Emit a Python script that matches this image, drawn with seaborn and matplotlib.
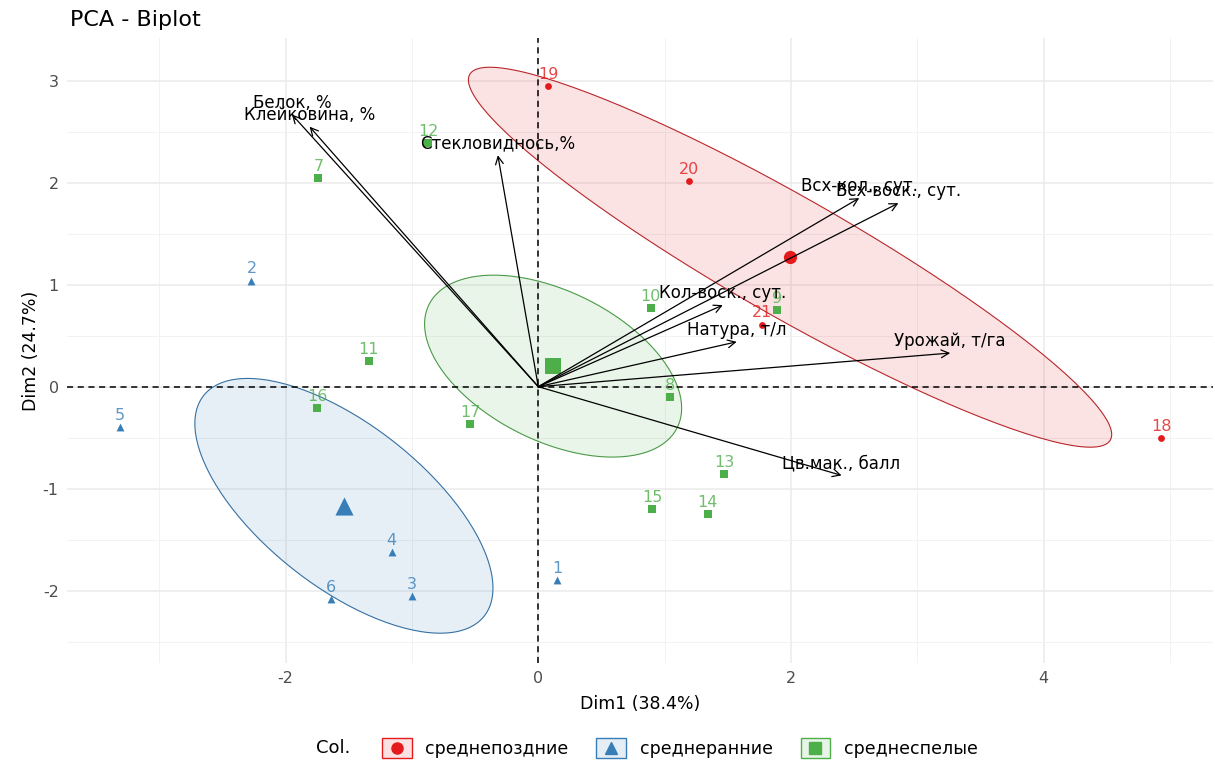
import numpy as np
import pandas as pd
import matplotlib
matplotlib.use("Agg")
import matplotlib.pyplot as plt
import seaborn as sns
from matplotlib.patches import Rectangle
from matplotlib.lines import Line2D
from matplotlib.legend_handler import HandlerBase
from matplotlib.colors import to_rgba

# Individuals (PCA scores on the first two dimensions)
sample_ids = [str(i) for i in range(1, 22)]
groups = ["среднеранние"] * 6 + ["среднеспелые"] * 11 + ["среднепоздние"] * 4
dim1 = [0.15, -2.27, -1.00, -1.16, -3.31, -1.64,
        -1.74, 1.04, 1.89, 0.89, -1.34, -0.87, 1.47, 1.34, 0.90, -1.75, -0.54,
        4.93, 0.08, 1.19, 1.77]
dim2 = [-1.90, 1.04, -2.05, -1.62, -0.40, -2.08,
        2.05, -0.10, 0.75, 0.77, 0.25, 2.39, -0.86, -1.25, -1.20, -0.21, -0.37,
        -0.50, 2.95, 2.02, 0.61]

# Variables (arrow end points)
var_names = ["Белок, %", "Клейковина, %", "Стекловиднось,%", "Всх-кол., сут.",
             "Всх-воск., сут.", "Кол-воск., сут.", "Натура, т/л", "Урожай, т/га",
             "Цв.мак., балл"]
var_dim1 = [-1.95, -1.81, -0.32, 2.54, 2.85, 1.46, 1.57, 3.26, 2.40]
var_dim2 = [2.67, 2.55, 2.27, 1.85, 1.80, 0.80, 0.44, 0.33, -0.87]

group_order = ["среднепоздние", "среднеранние", "среднеспелые"]
palette = {"среднепоздние": "#E41A1C", "среднеранние": "#377EB8", "среднеспелые": "#4DAF4A"}
edge_colors = {"среднепоздние": "#B8262B", "среднеранние": "#3570A3", "среднеспелые": "#4A9A47"}
markers = {"среднепоздние": "o", "среднеранние": "^", "среднеспелые": "s"}
point_size = {"среднепоздние": 24, "среднеранние": 32, "среднеспелые": 28}
center_size = {"среднепоздние": 90, "среднеранние": 170, "среднеспелые": 130}
key_marker_size = {"среднепоздние": 8, "среднеранние": 9, "среднеспелые": 8}

df = pd.DataFrame({"id": sample_ids, "group": groups, "Dim1": dim1, "Dim2": dim2})

sns.set_style("white")
plt.rcParams["font.family"] = ["DejaVu Sans"]
plt.rcParams["axes.unicode_minus"] = False
plt.rcParams["text.color"] = "black"
plt.rcParams["axes.labelcolor"] = "black"

fig = plt.figure(figsize=(12.15, 7.6), dpi=100)
ax = fig.add_axes([67 / 1215, 1 - 663 / 760, (1213 - 67) / 1215, (663 - 38) / 760])

ax.set_xlim(-3.73, 5.34)
ax.set_ylim(-2.71, 3.42)
ax.set_xticks([-2, 0, 2, 4])
ax.set_xticks([-3, -1, 1, 3, 5], minor=True)
ax.set_yticks([-2, -1, 0, 1, 2, 3])
ax.set_yticks([-2.5, -1.5, -0.5, 0.5, 1.5, 2.5], minor=True)
ax.grid(which="major", color="#EBEBEB", linewidth=1.1)
ax.grid(which="minor", color="#F2F2F2", linewidth=0.7)
ax.set_axisbelow(True)
for s in ax.spines.values():
    s.set_visible(False)
ax.tick_params(which="both", length=0, labelsize=11.5, labelcolor="#4D4D4D", pad=6)

# 95% confidence ellipses around group means
chi_r = np.sqrt(-2 * np.log(0.05))
t = np.linspace(0, 2 * np.pi, 200)
for g in group_order:
    sub = df[df["group"] == g]
    pts = sub[["Dim1", "Dim2"]].to_numpy()
    mu = pts.mean(axis=0)
    cov = np.cov(pts.T) / len(pts)
    vals, vecs = np.linalg.eigh(cov)
    circ = np.vstack([np.cos(t), np.sin(t)]) * chi_r
    ell = (vecs @ np.diag(np.sqrt(vals)) @ circ).T + mu
    ax.fill(ell[:, 0], ell[:, 1], color=palette[g], alpha=0.12, linewidth=0, zorder=1)
    ax.plot(ell[:, 0], ell[:, 1], color=edge_colors[g], linewidth=0.8, zorder=1.1)

ax.axhline(0, color="black", linestyle=(0, (4, 3)), linewidth=1.1, zorder=2)
ax.axvline(0, color="black", linestyle=(0, (4, 3)), linewidth=1.1, zorder=2)

# Individuals
for g in group_order:
    sub = df[df["group"] == g]
    sns.scatterplot(data=sub, x="Dim1", y="Dim2", color=palette[g], marker=markers[g],
                    s=point_size[g], linewidth=0, legend=False, ax=ax, zorder=3)
    for _, r in sub.iterrows():
        ax.annotate(r["id"], (r["Dim1"], r["Dim2"]), xytext=(0, 3), textcoords="offset points",
                    ha="center", va="bottom", color=palette[g], alpha=0.8, fontsize=11.5, zorder=4)

# Group centres
centres = df.groupby("group", as_index=False)[["Dim1", "Dim2"]].mean()
for g in group_order:
    c = centres[centres["group"] == g]
    sns.scatterplot(data=c, x="Dim1", y="Dim2", color=palette[g], marker=markers[g],
                    s=center_size[g], linewidth=0, legend=False, ax=ax, zorder=3)

# Variable arrows
for name, vx, vy in zip(var_names, var_dim1, var_dim2):
    ax.annotate("", xy=(vx, vy), xytext=(0, 0),
                arrowprops=dict(arrowstyle="->,head_length=0.55,head_width=0.28",
                                color="black", lw=0.9, shrinkA=0, shrinkB=0), zorder=5)
    ax.annotate(name, (vx, vy), xytext=(0, 2), textcoords="offset points",
                ha="center", va="bottom", color="black", fontsize=12, zorder=6)

ax.set_xlabel("Dim1 (38.4%)", fontsize=12.5, color="black", labelpad=6)
ax.set_ylabel("Dim2 (24.7%)", fontsize=12.5, color="black", labelpad=2)
fig.text(70 / 1215, 1 - 20 / 760, "PCA - Biplot", fontsize=16, ha="left", va="center",
         color="black")


class KeyBox(HandlerBase):
    """Legend key: light filled square with the group's marker in the middle."""

    def __init__(self, color, marker, ms):
        super().__init__()
        self.color, self.marker, self.ms = color, marker, ms

    def create_artists(self, legend, orig_handle, xdescent, ydescent, width, height, fontsize, trans):
        box = Rectangle((-xdescent, -ydescent), width, height, transform=trans,
                        facecolor=to_rgba(self.color, 0.13), edgecolor=self.color, linewidth=1.0)
        mk = Line2D([-xdescent + width / 2], [-ydescent + height / 2], transform=trans,
                    marker=self.marker, color=self.color, markersize=self.ms, linestyle="")
        return [box, mk]


handles = [Line2D([], []) for _ in group_order]
hmap = {h: KeyBox(palette[g], markers[g], key_marker_size[g]) for h, g in zip(handles, group_order)}
leg = fig.legend(handles, group_order, handler_map=hmap,
                 ncol=3, loc="center", bbox_to_anchor=(680 / 1215, 1 - 748 / 760), frameon=False,
                 handlelength=1.7, handleheight=1.45, fontsize=12.5, columnspacing=1.6,
                 handletextpad=0.8)
for txt in leg.get_texts():
    txt.set_color("black")
fig.text(350 / 1215, 1 - 748 / 760, "Col.", fontsize=13, ha="right", va="center", color="black")

fig.savefig("out.png", dpi=100)
